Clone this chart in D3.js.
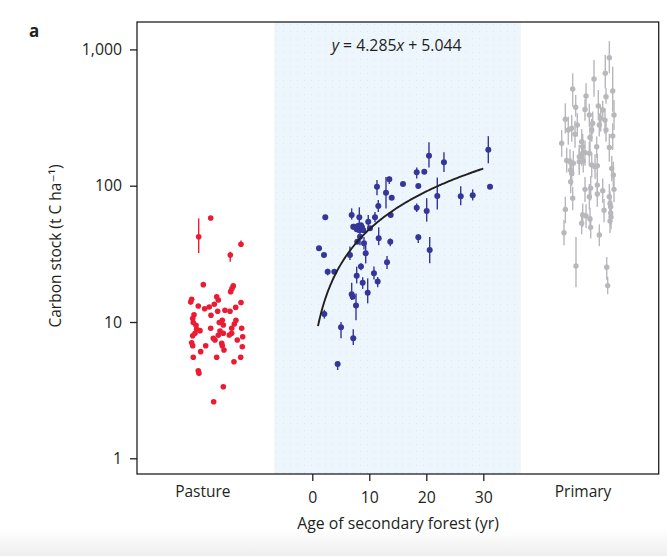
<!DOCTYPE html>
<html>
<head>
<meta charset="utf-8">
<script src="https://cdn.jsdelivr.net/npm/d3@7/dist/d3.min.js"></script>
<style>
  html, body { margin: 0; padding: 0; background: #fff; }
  svg { display: block; }
  text { font-family: "Open Sans", "DejaVu Sans", sans-serif; fill: #231f20; }
</style>
</head>
<body>
<svg id="chart" width="667" height="556"></svg>
<script>
// ---------- DATA ----------
const categories = ["Pasture", "Primary"];
const categoryCenters = [-19.2, 47.5];          // position on the age scale
const secondaryRange = [-6.67, 36.6];           // shaded secondary-forest band (years)
const yTicks = [1, 10, 100, 1000];
const xTicks = [0, 10, 20, 30];
const fit = { slope: 4.285, intercept: 5.044, from: 1, to: 30 };
const equationLabel = ["y", " = 4.285", "x", " + 5.044"];

// Pasture: [x (jitter on age scale), carbon stock, lo, hi]
const pasture = [
  [-17.82, 57.9], [-19.93, 42.2, 32, 57.6], [-14.39, 31.0, 27.7, 32.7], [-12.51, 37.2, 35.6, 39.7],
  [-19.12, 18.8], [-13.86, 18.4], [-14.09, 17.6], [-14.32, 16.7], [-21.16, 14.7], [-21.33, 14.0],
  [-16.77, 15.3], [-16.49, 14.5], [-12.51, 13.9], [-20.0, 13.1], [-18.88, 12.5], [-18.07, 12.9],
  [-17.19, 13.5], [-13.44, 12.8], [-15.32, 12.2], [-14.44, 12.0], [-20.75, 11.3], [-17.77, 11.2],
  [-16.60, 12.0], [-20.98, 10.6], [-20.88, 9.9], [-20.40, 9.46], [-15.79, 10.3], [-15.61, 9.5],
  [-16.32, 9.9], [-13.39, 10.3], [-13.68, 9.67], [-14.14, 8.99], [-17.82, 8.99], [-20.28, 8.84],
  [-19.70, 8.64], [-20.58, 8.26], [-20.98, 7.93], [-16.19, 8.59], [-15.61, 8.26], [-16.49, 7.99],
  [-12.39, 8.99], [-14.14, 8.26], [-14.56, 8.03], [-12.21, 7.80], [-17.37, 7.59], [-17.07, 7.38],
  [-13.16, 7.38], [-21.16, 7.05], [-20.98, 6.70], [-18.70, 6.70], [-15.89, 6.98], [-15.79, 6.70],
  [-12.28, 6.59], [-15.49, 6.23], [-19.58, 6.06], [-20.88, 5.51], [-16.77, 5.51], [-12.56, 5.51],
  [-13.74, 5.11], [-20.0, 4.39], [-19.88, 4.20], [-15.61, 3.35], [-17.30, 2.60]
];

// Secondary forest: [age (yr), carbon stock, lo, hi]
const secondary = [
  [2.28, 58.6], [1.18, 34.7], [2.05, 31.0], [2.70, 23.4, 22, 24.6], [3.86, 23.4],
  [2.11, 11.45, 10.6, 12.3], [5.04, 9.15, 7.6, 10.0], [7.19, 7.59, 6.78, 8.84], [4.45, 4.92, 4.44, 5.1],
  [6.61, 31.0, 28.5, 35.8], [6.91, 61.0, 56.4, 68.2], [8.25, 58.6, 50, 69.4], [7.19, 50.0],
  [7.30, 50.0], [7.79, 48.0], [8.25, 47.2], [8.72, 49.5], [8.95, 47.2], [8.07, 50.8],
  [7.89, 38.8], [8.37, 42.2, 36.6, 47.2], [8.54, 51.2], [9.82, 54.4, 47.2, 61], [11.0, 58.6, 54, 64],
  [10.12, 48.7], [9.07, 37.8, 34, 42], [9.37, 31.9, 26.9, 36.5], [11.58, 71.0, 64, 78.5],
  [11.65, 41.1, 36.6, 49.5], [11.35, 98.3, 85, 110], [12.93, 88.9, 68, 116], [13.51, 111.4, 103, 117],
  [13.93, 81.7], [13.75, 61.0], [13.68, 38.8, 36, 41], [13.11, 27.4, 24.5, 30.5],
  [8.54, 25.5, 24, 27], [7.79, 21.8, 19.2, 25.5], [8.84, 19.4, 17.5, 21.3], [10.82, 22.8, 20.5, 25.5],
  [11.47, 19.8, 18, 21.4], [6.91, 16.0, 14.5, 19.4], [7.09, 15.3], [7.67, 13.2, 10.3, 16.2],
  [9.72, 16.4, 13.7, 20.9], [15.91, 102.9], [18.32, 125.4, 113, 136], [18.6, 99.5],
  [18.32, 69.0, 64, 74], [18.6, 41.8, 38, 44], [20.47, 166, 136, 208], [19.65, 126.7],
  [23.1, 148.5, 126, 176], [21.93, 84.0, 67, 115], [20.07, 65.2, 54.5, 81], [20.6, 33.7, 27, 42],
  [26.04, 83.6, 72, 99], [28.14, 85.0, 78, 94], [30.88, 183.7, 146, 231], [31.18, 98.3, 95, 103]
];

// Primary forest: [x (jitter on age scale), carbon stock, lo, hi]
const primary = [
  [52.11, 869, 670, 1150], [51.40, 668, 518, 910], [49.42, 606, 450, 836], [45.68, 512, 380, 668],
  [52.70, 495, 349, 747], [51.53, 450, 400, 520], [48.02, 455, 359, 564], [46.21, 376, 321, 463],
  [47.84, 363, 300, 430], [50.18, 384, 303, 504], [50.95, 359, 310, 420], [48.60, 330, 270, 400],
  [44.39, 307, 242, 402], [52.93, 330, 256, 425], [50.60, 312, 250, 380], [51.35, 303, 240, 370],
  [49.19, 287, 240, 350], [44.91, 256, 200, 320], [45.51, 264, 210, 330], [46.49, 279, 230, 340],
  [49.02, 256, 210, 310], [50.35, 279, 230, 340], [51.53, 256, 210, 310], [46.09, 239, 190, 300],
  [48.72, 226, 180, 280], [52.70, 232, 183, 287], [43.75, 205, 163, 256], [47.26, 210, 170, 260],
  [47.44, 193, 150, 240], [49.89, 193, 160, 230], [52.11, 191, 150, 240], [47.84, 175, 140, 215],
  [47.26, 171, 140, 210], [46.84, 163, 130, 200], [48.60, 173, 140, 210], [44.63, 153, 125, 190],
  [45.21, 150, 120, 185], [45.79, 146, 118, 180], [46.84, 150, 120, 185], [47.54, 152, 125, 185],
  [49.02, 142, 115, 175], [49.60, 138, 112, 170], [50.00, 140, 115, 172], [45.33, 130, 105, 160],
  [45.51, 123, 100, 150], [52.53, 134, 108, 165], [52.81, 120, 97, 150], [45.33, 107, 88, 130],
  [50.00, 101, 82, 125], [47.84, 94, 76, 116], [48.84, 96, 78, 118], [50.95, 92, 75, 113],
  [52.93, 94, 76, 116], [50.00, 87, 70, 108], [48.60, 83, 67, 103], [45.68, 81, 66, 98],
  [52.11, 83, 67, 103], [52.23, 74, 60, 91], [52.35, 70, 57, 86], [51.18, 66, 54, 80],
  [44.39, 67, 53, 83], [52.35, 63, 51, 77], [52.40, 59, 48, 72], [52.23, 55, 45, 67],
  [47.44, 61, 50, 74], [48.02, 60, 49, 73], [47.26, 53, 44, 64], [48.72, 57, 47, 69],
  [48.84, 49.5, 41, 60], [50.35, 43.5, 36, 52], [44.16, 45.2, 36.6, 56], [46.26, 25.8, 18, 42],
  [51.65, 25.2, 20.4, 30], [51.82, 18.5, 16, 21.5]
];

// ---------- LAYOUT ----------
const W = 667, H = 556;
const plot = { left: 137, right: 658.7, top: 22, bottom: 474 };
const svg = d3.select("#chart");

// faint grey band at the page bottom
const defs = svg.append("defs");
const grad = defs.append("linearGradient").attr("id", "pagefade").attr("x1", 0).attr("y1", 0).attr("x2", 0).attr("y2", 1);
grad.append("stop").attr("offset", 0).attr("stop-color", "#ffffff");
grad.append("stop").attr("offset", 1).attr("stop-color", "#efefef");
svg.append("rect").attr("x", 0).attr("y", 528).attr("width", W).attr("height", H - 528).attr("fill", "url(#pagefade)");

const pat = defs.append("pattern").attr("id", "dots").attr("width", 7).attr("height", 7).attr("patternUnits", "userSpaceOnUse");
pat.append("rect").attr("width", 7).attr("height", 7).attr("fill", "#eef6fd");
pat.append("circle").attr("cx", 3.5).attr("cy", 3.5).attr("r", 0.5).attr("fill", "#d6e3ee");

const x = d3.scaleLinear().domain([-30.75, 60.77]).range([plot.left, plot.right]);
const y = d3.scaleLog().domain([0.767, 1589]).range([plot.bottom, plot.top]);

// shaded secondary-forest region
svg.append("rect")
  .attr("x", x(secondaryRange[0]))
  .attr("y", plot.top)
  .attr("width", x(secondaryRange[1]) - x(secondaryRange[0]))
  .attr("height", plot.bottom - plot.top)
  .attr("fill", "url(#dots)");

// equation
const eq = svg.append("text")
  .attr("x", x(14.8)).attr("y", 51)
  .attr("text-anchor", "middle")
  .style("font-size", "15.8px");
equationLabel.forEach((t, i) => {
  eq.append("tspan").text(t).style("font-style", (i % 2 === 0) ? "italic" : "normal");
});

// series drawing helper
function drawSeries(data, color, r) {
  const g = svg.append("g");
  g.selectAll("line").data(data.filter(d => d.length > 2)).join("line")
    .attr("x1", d => x(d[0])).attr("x2", d => x(d[0]))
    .attr("y1", d => y(d[2])).attr("y2", d => y(d[3]))
    .attr("stroke", color).attr("stroke-width", 1.4);
  g.selectAll("circle").data(data).join("circle")
    .attr("cx", d => x(d[0])).attr("cy", d => y(d[1]))
    .attr("r", r).attr("fill", color);
}
drawSeries(pasture, "#ec1b34", 2.8);
drawSeries(primary, "#b7b7bc", 2.7);
drawSeries(secondary, "#353699", 3.0);

// fitted curve
const fitX = d3.range(fit.from, fit.to + 0.001, 0.25);
svg.append("path")
  .datum(fitX)
  .attr("fill", "none")
  .attr("stroke", "#231f20")
  .attr("stroke-width", 1.9)
  .attr("d", d3.line().x(d => x(d)).y(d => y(fit.slope * d + fit.intercept)).curve(d3.curveMonotoneX));

// frame
svg.append("rect")
  .attr("x", plot.left).attr("y", plot.top)
  .attr("width", plot.right - plot.left).attr("height", plot.bottom - plot.top)
  .attr("fill", "none").attr("stroke", "#231f20").attr("stroke-width", 1.3);

// axes
const yAxis = svg.append("g")
  .attr("transform", `translate(${plot.left},0)`)
  .call(d3.axisLeft(y).tickValues(yTicks).tickFormat(d3.format(",")).tickSize(7).tickPadding(8).tickSizeOuter(0));
const xAxis = svg.append("g")
  .attr("transform", `translate(0,${plot.bottom})`)
  .call(d3.axisBottom(x).tickValues(xTicks).tickFormat(d3.format("d")).tickSize(7).tickPadding(11).tickSizeOuter(0));
[yAxis, xAxis].forEach(a => {
  a.select(".domain").remove();
  a.selectAll(".tick line").attr("stroke", "#231f20").attr("stroke-width", 1.3);
  a.selectAll(".tick text").attr("fill", "#231f20").style("font-size", "15.8px")
    .style("font-family", "'Open Sans', 'DejaVu Sans', sans-serif");
});

// category labels
svg.selectAll("text.cat").data(categories).join("text")
  .attr("class", "cat")
  .attr("x", (d, i) => x(categoryCenters[i]))
  .attr("y", 497)
  .attr("text-anchor", "middle")
  .style("font-size", "15.5px")
  .text(d => d);

// axis titles
svg.append("text")
  .attr("x", 398).attr("y", 529)
  .attr("text-anchor", "middle")
  .style("font-size", "15.8px")
  .text("Age of secondary forest (yr)");

svg.append("text")
  .attr("transform", "translate(61,246) rotate(-90)")
  .attr("text-anchor", "middle")
  .style("font-size", "15.5px")
  .text("Carbon stock (t C ha\u207B\u00B9)");

// panel letter
svg.append("text")
  .attr("x", 29).attr("y", 37)
  .style("font-size", "17px").style("font-weight", "bold")
  .text("a");
</script>
</body>
</html>
